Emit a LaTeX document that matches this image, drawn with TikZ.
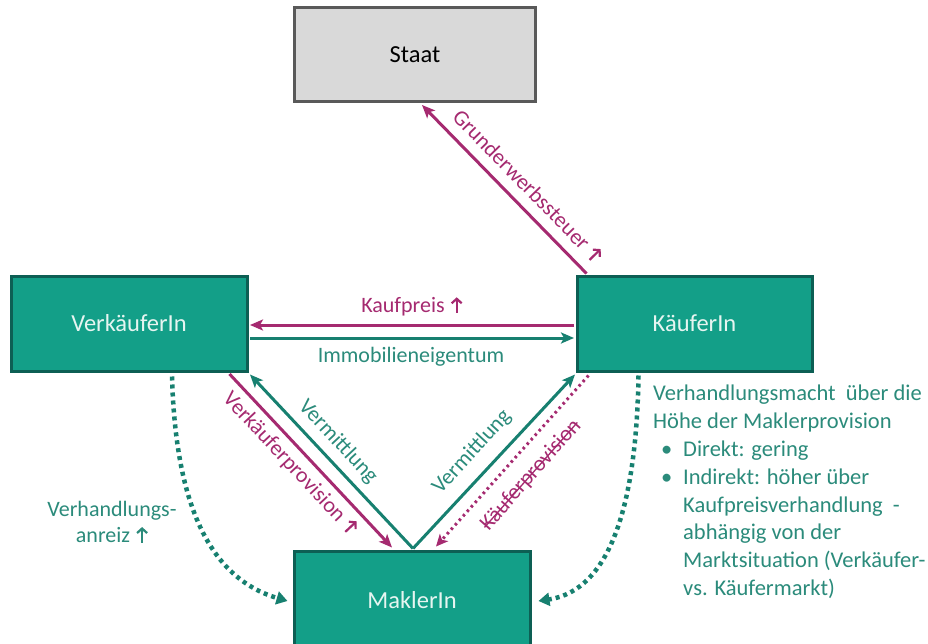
\documentclass[tikz,border=0pt]{standalone}
\usepackage{fontspec}
\setmainfont{Carlito}
\usetikzlibrary{arrows.meta,calc}
\definecolor{tealfill}{HTML}{139F88}
\definecolor{tealborder}{HTML}{0D5F54}
\definecolor{boxtext}{HTML}{E6F5F1}
\definecolor{tealline}{HTML}{178070}
\definecolor{tealtext}{HTML}{2B8B7B}
\definecolor{mag}{HTML}{A52A70}
\definecolor{staatfill}{HTML}{D9D9D9}
\definecolor{staatborder}{HTML}{595959}
\newsavebox\strkbox
\newcommand\strk[1]{\sbox\strkbox{#1}\rlap{\rule[0.24em]{\wd\strkbox}{1.3pt}}\usebox\strkbox}
\newcommand\uparr{\tikz[x=1pt,y=1pt,baseline=0pt]{\useasboundingbox (0,0) rectangle (13,15);\draw[draw=.,line width=2.2pt,-{Straight Barb[length=4.5pt,width=10pt]}] (7,0) -- (7,15.5);}}
\begin{document}
\begin{tikzpicture}[x=1pt,y=-1pt,
  actor/.style={draw=tealborder,line width=3pt,fill=tealfill,text=boxtext,minimum width=236pt,minimum height=95pt,inner sep=0pt,font=\fontsize{24.5}{29}\selectfont},
  statebox/.style={draw=staatborder,line width=3pt,fill=staatfill,text=black,minimum width=241pt,minimum height=94pt,inner sep=0pt,font=\fontsize{24.5}{29}\selectfont},
  lbl/.style={inner sep=0pt,font=\fontsize{22}{26}\selectfont},
  magarrow/.style={draw=mag,line width=3pt,-{Stealth[length=13pt,width=11pt,inset=3pt]}},
  tealarrow/.style={draw=tealline,line width=3pt,-{Stealth[length=13pt,width=11pt,inset=3pt]}},
  magdots/.style={draw=mag,line width=3pt,dash pattern=on 2.5pt off 3.5pt,-{Stealth[length=12pt,width=11pt,inset=3pt]}},
  tealdots/.style={draw=tealline,line width=4.5pt,dash pattern=on 4pt off 4pt,-{Triangle[length=11pt,width=13pt]}},
]
\fill[white] (0,0) rectangle (928,644);
\useasboundingbox (0,0) rectangle (928,644);

% boxes
\node[statebox] (staat) at (415,55) {Staat};
\node[actor] (verk) at (129,323.5) {VerkäuferIn};
\node[actor,minimum width=235pt] (kaeu) at (694.5,323.5) {KäuferIn};
\node[actor,minimum height=98pt] (makl) at (412,600) {MaklerIn};

% connectors
\draw[magarrow] ($(kaeu.north west)+(11,-1)$) -- ($(staat.south)+(7,1.5)$);
\draw[magarrow] ($(kaeu.west)+(-1.5,1.5)$) -- ($(verk.east)+(1.5,1.5)$);
\draw[tealarrow] ($(verk.east)+(1.5,14.5)$) -- ($(kaeu.west)+(-1.5,14.5)$);
\draw[magarrow] ($(verk.south east)+(-19,1.5)$) -- ($(makl.north)+(-20,-2)$);
\draw[tealarrow] ($(makl.north)+(1,-1)$) -- ($(verk.south east)+(1.5,2)$);
\draw[tealarrow] ($(makl.north)+(1,-1)$) -- ($(kaeu.south west)+(-0.5,2)$);
\draw[magdots] ($(kaeu.south west)+(13,3)$) -- ($(makl.north)+(24,-3)$);
\draw[tealdots] ($(verk.south)+(43,4)$) .. controls +(3,105) and +(-89,-26) .. ($(makl.west)+(-5,1)$);
\draw[tealdots] ($(kaeu.south west)+(63,3)$) .. controls +(-2,126) and +(73,-11) .. ($(makl.east)+(7,1)$);

% labels
\node[lbl,text=mag] (kplbl) at (412,307) {Kaufpreis \uparr};
\node[lbl,text=tealtext] (imlbl) at (411,357) {Immobilieneigentum};
\node[lbl,text=mag,rotate=-45.7] (gwlbl) at (528,186) {Grunderwerbssteuer \uparr};
\node[lbl,text=mag,rotate=-47] (vplbl) at (290,464) {Verkäuferprovision \uparr};
\node[lbl,text=tealtext,rotate=-47] (vm1) at (338,442) {Vermittlung};
\node[lbl,text=tealtext,rotate=47.5] (vm2) at (472,452) {Vermittlung};
\node[lbl,text=mag,rotate=48.5] (kvlbl) at (531,475) {\strk{Käuferprovision}};
\node[lbl,text=tealtext,align=center] (anreiz) at (112,522) {Verhandlungs-\\anreiz \uparr};
\node[lbl,text=tealtext,anchor=north west,align=left,font=\fontsize{22.5}{27.8}\selectfont] (info) at (653,385)
 {Verhandlungsmacht\ \ über die\\
  Höhe der Maklerprovision\\
  \makebox[30pt][l]{\hspace{8pt}\textbullet}Direkt: gering\\
  \makebox[30pt][l]{\hspace{8pt}\textbullet}Indirekt: höher über\\
  \hspace*{30pt}Kaufpreisverhandlung\ \ -\\
  \hspace*{30pt}abhängig von der\\
  \hspace*{30pt}Marktsituation (Verkäufer-\\
  \hspace*{30pt}vs. Käufermarkt)};
\end{tikzpicture}
\end{document}
